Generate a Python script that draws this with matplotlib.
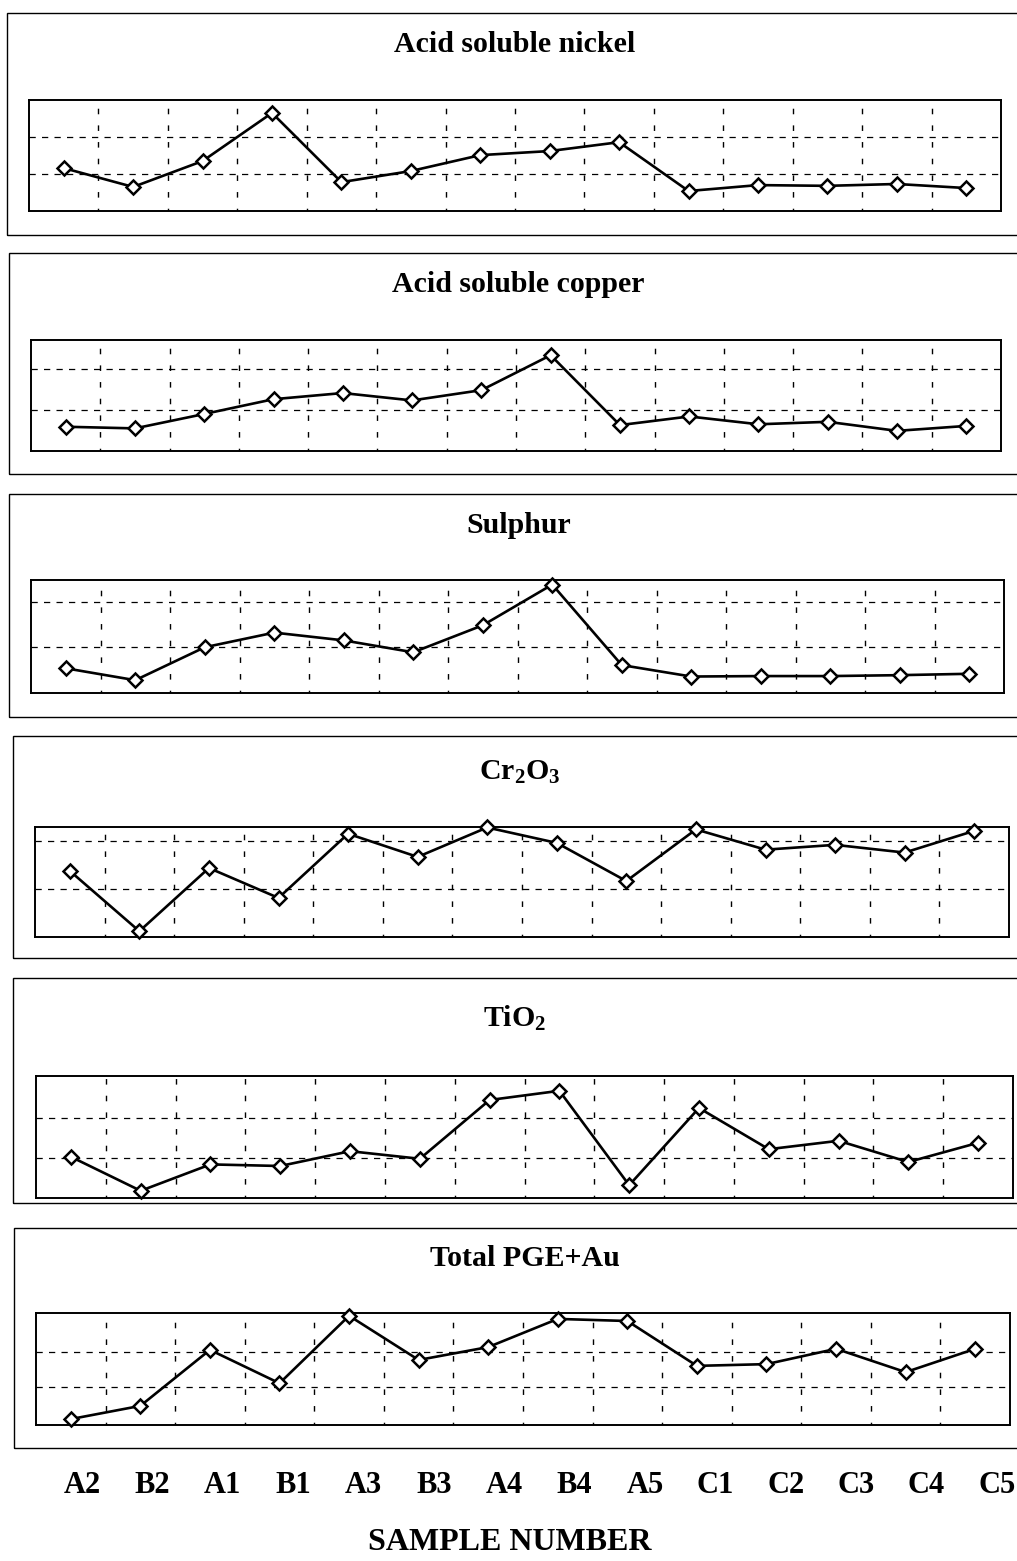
import matplotlib
matplotlib.use('Agg')
import matplotlib.pyplot as plt
import matplotlib.patches as patches
import numpy as np

plt.rcParams['font.family'] = ['Liberation Serif', 'DejaVu Serif']
plt.rcParams['mathtext.fontset'] = 'custom'
plt.rcParams['mathtext.rm'] = 'Liberation Serif:bold'
plt.rcParams['mathtext.default'] = 'rm'

samples = ['A2', 'B2', 'A1', 'B1', 'A3', 'B3', 'A4', 'B4', 'A5', 'C1', 'C2', 'C3', 'C4', 'C5']

# values in grid units (dashed lines at 1 and 2)
ni = [1.16, 0.65, 1.35, 2.65, 0.78, 1.08, 1.51, 1.62, 1.86, 0.54, 0.70, 0.68, 0.73, 0.62]
cu = [0.59, 0.55, 0.90, 1.26, 1.41, 1.23, 1.48, 2.33, 0.63, 0.84, 0.65, 0.71, 0.49, 0.61]
s = [0.54, 0.28, 1.00, 1.32, 1.15, 0.89, 1.48, 2.37, 0.61, 0.36, 0.37, 0.37, 0.39, 0.42]
cr2o3 = [1.37, 0.12, 1.43, 0.81, 2.14, 1.66, 2.27, 1.95, 1.16, 2.23, 1.81, 1.91, 1.75, 2.20]
tio2 = [1.03, 0.18, 0.84, 0.80, 1.17, 0.98, 2.45, 2.68, 0.32, 2.25, 1.22, 1.43, 0.90, 1.38]
pge = [0.07, 0.45, 2.06, 1.10, 3.04, 1.77, 2.14, 2.95, 2.89, 1.60, 1.65, 2.09, 1.42, 2.09]

titles = ['Acid soluble nickel', 'Acid soluble copper', 'Sulphur',
          r'Cr$_2$O$_3$', r'TiO$_2$', 'Total PGE+Au']
series = [ni, cu, s, cr2o3, tio2, pge]
ylims = [(0, 3.0), (0, 2.7), (0, 2.47), (0, 2.28), (0, 3.05), (-0.1, 3.12)]

W, H = 1017, 1561
fig = plt.figure(figsize=(W / 100, H / 100), dpi=100)

# pixel boxes: outer frame (x0, y0, y1), plot area (x0, x1, y0, y1), title centre (x, y)
frames = [(7, 13, 235), (9, 253, 474), (9, 494, 717), (13, 736, 958), (13, 978, 1203), (14, 1228, 1448)]
areas = [(29, 1001, 100, 211), (31, 1001, 340, 451), (31, 1004, 580, 693),
         (35, 1009, 827, 937), (36, 1013, 1076, 1198), (36, 1010, 1313, 1425)]
tpos = [(515, 45), (518, 285), (519, 525), (520, 772), (515, 1018), (525, 1258)]


def box(x0, x1, y0, y1):
    return [x0 / W, 1 - y1 / H, (x1 - x0) / W, (y1 - y0) / H]


x = np.arange(len(samples))
for i in range(6):
    fx, fy0, fy1 = frames[i]
    fig.patches.append(patches.Rectangle((fx / W, 1 - fy1 / H), (1030 - fx) / W, (fy1 - fy0) / H,
                                         transform=fig.transFigure, fill=False,
                                         edgecolor='black', linewidth=1.0))
    fig.text(tpos[i][0] / W, 1 - tpos[i][1] / H, titles[i], ha='center', va='center',
             fontsize=21.5, fontweight='bold')

    ax = fig.add_axes(box(*areas[i]))
    ax.plot(x, series[i], '-', color='black', linewidth=1.9,
            marker='D', markersize=7.5, markerfacecolor='white',
            markeredgecolor='black', markeredgewidth=1.8, zorder=3, clip_on=False)
    ax.set_xlim(-0.5, 13.5)
    ax.set_ylim(*ylims[i])
    ax.set_yticks([1, 2])
    ax.set_xticks(np.arange(0.5, 13, 1))
    ax.tick_params(length=0, labelbottom=False, labelleft=False)
    ax.yaxis.grid(True, color='black', linestyle=(0, (5, 5)), linewidth=0.9)
    ax.xaxis.grid(True, color='black', linestyle=(2, (4, 8)), linewidth=1.0)
    for sp in ax.spines.values():
        sp.set_linewidth(1.4)

# sample labels under the bottom panel
lab = fig.add_axes(box(47, 1032, 1440, 1450))
lab.set_xlim(-0.5, 13.5)
lab.set_xticks(x)
lab.set_xticklabels(samples, fontsize=22, fontweight='bold')
lab.tick_params(length=0, pad=15)
lab.set_yticks([])
for sp in lab.spines.values():
    sp.set_visible(False)
lab.patch.set_alpha(0)

fig.text(510 / W, 1 - 1543 / H, 'SAMPLE NUMBER', ha='center', va='center',
         fontsize=23, fontweight='bold')

fig.savefig('out.png', dpi=100)
